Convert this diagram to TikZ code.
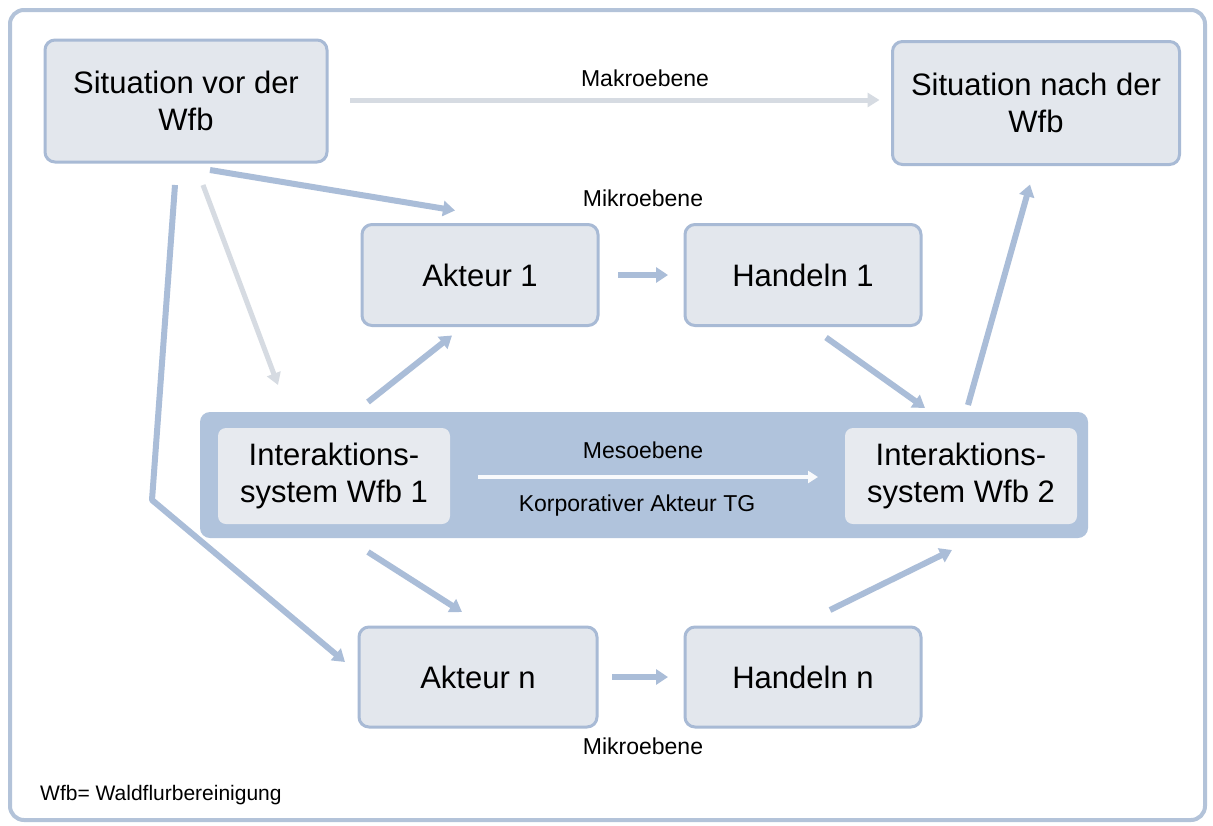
\documentclass[tikz,border=0pt]{standalone}
\usepackage{fontspec}
\setmainfont{Liberation Sans}
\usetikzlibrary{arrows.meta,calc}
\definecolor{boxfill}{HTML}{E3E7ED}
\definecolor{boxdraw}{HTML}{A8BAD5}
\definecolor{arrcol}{HTML}{AABDD8}
\definecolor{bandcol}{HTML}{B0C3DC}
\definecolor{innerfill}{HTML}{E7EAEF}
\definecolor{framecol}{HTML}{B3C3D9}
\definecolor{lightarr}{HTML}{D6DBE2}
\definecolor{lightarrdraw}{HTML}{C4CBD5}
\tikzset{
  box/.style={draw=boxdraw, line width=3pt, fill=boxfill, rounded corners=10pt,
    outer sep=0pt, inner sep=0pt, align=center, font=\fontsize{31}{37}\selectfont},
  innerbox/.style={fill=innerfill, rounded corners=8pt, outer sep=0pt, inner sep=0pt,
    align=center, font=\fontsize{31}{37}\selectfont},
  lbl/.style={inner sep=0pt, font=\fontsize{23}{27}\selectfont},
  arr/.style={draw=arrcol, line width=6pt, -{Triangle[length=12pt,width=15pt]}},
  lightarrow/.style={draw=lightarr, line width=5pt, -{Triangle[length=12pt,width=14pt,open,fill=lightarr]}},
  mesoarrow/.style={draw=white!92!bandcol, line width=4pt, -{Triangle[length=10pt,width=12pt]}},
}
\begin{document}
\begin{tikzpicture}[x=1pt,y=-1pt]
\useasboundingbox (0,0) rectangle (1213,825);
\fill[white] (0,0) rectangle (1213,825);
% outer frame
\node[draw=framecol, line width=4pt, rounded corners=14pt, minimum width=1195pt, minimum height=810pt, inner sep=0pt] (frame) at (607.5,415) {};
% meso band
\node[fill=bandcol, rounded corners=10pt, minimum width=888pt, minimum height=126pt, inner sep=0pt, outer sep=0pt] (band) at (644,475) {};
% boxes
\node[box, minimum width=282pt, minimum height=122pt] (s1) at (186,101) {Situation vor der\\Wfb};
\node[box, minimum width=287pt, minimum height=123pt] (s2) at (1036,103) {Situation nach der\\Wfb};
\node[box, minimum width=236pt, minimum height=101pt] (a1) at (480,275) {Akteur 1};
\node[box, minimum width=236pt, minimum height=101pt] (h1) at (803,275) {Handeln 1};
\node[box, minimum width=238pt, minimum height=100pt] (an) at (478,677) {Akteur n};
\node[box, minimum width=236pt, minimum height=100pt] (hn) at (803,677) {Handeln n};
\node[innerbox, minimum width=232pt, minimum height=96pt] (i1) at (334,476) {Interaktions-\\system Wfb 1};
\node[innerbox, minimum width=232pt, minimum height=96pt] (i2) at (961,476) {Interaktions-\\system Wfb 2};
% labels
\node[lbl] (makro) at (645,78) {Makroebene};
\node[lbl] (mikro1) at (643,198) {Mikroebene};
\node[lbl] (meso) at (643,450) {Mesoebene};
\node[lbl] (korp) at (637,506) {Korporativer Akteur TG};
\node[lbl] (mikro2) at (643,746) {Mikroebene};
\node[inner sep=0pt, anchor=west, font=\fontsize{21}{25}\selectfont] (foot) at (40,795) {Wfb= Waldflurbereinigung};
% connectors
\draw[lightarrow] ($(s1.east)+(23,-1)$) -- ($(s2.west)+(-13,-3)$);
\draw[mesoarrow] ($(i1.east)+(28,1)$) -- ($(i2.west)+(-27,1)$);
\draw[arr] ($(s1.south)+(24,8)$) -- ($(a1.north west)+(93,-14)$);
\draw[lightarrow] ($(s1.south)+(17,23)$) -- ($(i1.north west)+(60,-43)$);
\coordinate (bend) at (152,500);
\draw[arr, line join=round] ($(s1.south)+(-11,23)$) -- (bend) -- ($(an.west)+(-14,-15)$);
\draw[arr] ($(i1.north)+(34,-26)$) -- ($(a1.south)+(-28,10)$);
\draw[arr] ($(h1.south)+(23,12)$) -- ($(i2.north)+(-36,-20)$);
\draw[arr] ($(i2.north)+(7,-23)$) -- ($(s2.south)+(-6,20)$);
\draw[arr] ($(i1.south)+(34,28)$) -- ($(an.north)+(-16,-15)$);
\draw[arr] ($(hn.north)+(27,-17)$) -- ($(i2.south)+(-9,26)$);
\draw[arr] ($(a1.east)+(20,0)$) -- ($(h1.west)+(-17,0)$);
\draw[arr] ($(an.east)+(15,0)$) -- ($(hn.west)+(-17,0)$);
\end{tikzpicture}
\end{document}
